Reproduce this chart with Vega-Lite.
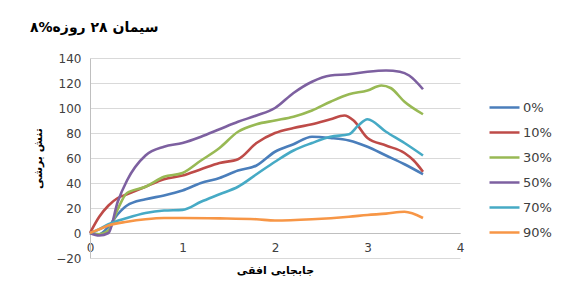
{
  "$schema": "https://vega.github.io/schema/vega-lite/v6.json",
  "width": 370,
  "height": 200,
  "autosize": {"type": "none"},
  "padding": {"left": 90, "top": 58, "right": 102, "bottom": 33},
  "background": "white",
  "config": {
    "view": {"stroke": null},
    "font": "DejaVu Sans"
  },
  "title": {
    "text": "\u200e۸%سیمان ۲۸ روزه",
    "anchor": "start",
    "frame": "group",
    "dx": -60,
    "offset": 17,
    "fontSize": 14,
    "fontWeight": "bold",
    "font": "DejaVu Sans",
    "color": "#000000"
  },
  "data": {
    "values": [
      {"s": "0%", "x": 0, "y": 0}, {"s": "0%", "x": 0.1, "y": -1}, {"s": "0%", "x": 0.2, "y": 5}, {"s": "0%", "x": 0.3, "y": 15}, {"s": "0%", "x": 0.4, "y": 22}, {"s": "0%", "x": 0.6, "y": 27}, {"s": "0%", "x": 0.8, "y": 30}, {"s": "0%", "x": 1.0, "y": 34}, {"s": "0%", "x": 1.2, "y": 40}, {"s": "0%", "x": 1.4, "y": 44}, {"s": "0%", "x": 1.6, "y": 50}, {"s": "0%", "x": 1.8, "y": 54}, {"s": "0%", "x": 2.0, "y": 65}, {"s": "0%", "x": 2.2, "y": 71}, {"s": "0%", "x": 2.4, "y": 77}, {"s": "0%", "x": 2.6, "y": 76}, {"s": "0%", "x": 2.8, "y": 74}, {"s": "0%", "x": 3.0, "y": 69}, {"s": "0%", "x": 3.2, "y": 62}, {"s": "0%", "x": 3.4, "y": 55}, {"s": "0%", "x": 3.6, "y": 47},
      {"s": "10%", "x": 0, "y": 0}, {"s": "10%", "x": 0.1, "y": 13}, {"s": "10%", "x": 0.2, "y": 22}, {"s": "10%", "x": 0.3, "y": 28}, {"s": "10%", "x": 0.4, "y": 31}, {"s": "10%", "x": 0.6, "y": 37}, {"s": "10%", "x": 0.8, "y": 43}, {"s": "10%", "x": 1.0, "y": 46}, {"s": "10%", "x": 1.2, "y": 51}, {"s": "10%", "x": 1.4, "y": 56}, {"s": "10%", "x": 1.6, "y": 59}, {"s": "10%", "x": 1.8, "y": 72}, {"s": "10%", "x": 2.0, "y": 80}, {"s": "10%", "x": 2.2, "y": 84}, {"s": "10%", "x": 2.4, "y": 87}, {"s": "10%", "x": 2.6, "y": 91}, {"s": "10%", "x": 2.75, "y": 94}, {"s": "10%", "x": 2.85, "y": 90}, {"s": "10%", "x": 3.0, "y": 76}, {"s": "10%", "x": 3.2, "y": 70}, {"s": "10%", "x": 3.4, "y": 64}, {"s": "10%", "x": 3.5, "y": 58}, {"s": "10%", "x": 3.6, "y": 49},
      {"s": "30%", "x": 0, "y": 0}, {"s": "30%", "x": 0.1, "y": -1}, {"s": "30%", "x": 0.2, "y": 2}, {"s": "30%", "x": 0.3, "y": 19}, {"s": "30%", "x": 0.4, "y": 32}, {"s": "30%", "x": 0.6, "y": 37}, {"s": "30%", "x": 0.8, "y": 45}, {"s": "30%", "x": 1.0, "y": 48}, {"s": "30%", "x": 1.2, "y": 58}, {"s": "30%", "x": 1.4, "y": 68}, {"s": "30%", "x": 1.6, "y": 81}, {"s": "30%", "x": 1.8, "y": 87}, {"s": "30%", "x": 2.0, "y": 90}, {"s": "30%", "x": 2.2, "y": 93}, {"s": "30%", "x": 2.4, "y": 98}, {"s": "30%", "x": 2.6, "y": 105}, {"s": "30%", "x": 2.8, "y": 111}, {"s": "30%", "x": 3.0, "y": 114}, {"s": "30%", "x": 3.15, "y": 118}, {"s": "30%", "x": 3.25, "y": 116}, {"s": "30%", "x": 3.4, "y": 105}, {"s": "30%", "x": 3.6, "y": 95},
      {"s": "50%", "x": 0, "y": 0}, {"s": "50%", "x": 0.1, "y": -2}, {"s": "50%", "x": 0.2, "y": 0}, {"s": "50%", "x": 0.3, "y": 25}, {"s": "50%", "x": 0.4, "y": 42}, {"s": "50%", "x": 0.6, "y": 62}, {"s": "50%", "x": 0.8, "y": 69}, {"s": "50%", "x": 1.0, "y": 72}, {"s": "50%", "x": 1.2, "y": 77}, {"s": "50%", "x": 1.4, "y": 83}, {"s": "50%", "x": 1.6, "y": 89}, {"s": "50%", "x": 1.8, "y": 94}, {"s": "50%", "x": 2.0, "y": 100}, {"s": "50%", "x": 2.2, "y": 112}, {"s": "50%", "x": 2.4, "y": 121}, {"s": "50%", "x": 2.6, "y": 126}, {"s": "50%", "x": 2.8, "y": 127}, {"s": "50%", "x": 3.0, "y": 129}, {"s": "50%", "x": 3.2, "y": 130}, {"s": "50%", "x": 3.35, "y": 129}, {"s": "50%", "x": 3.45, "y": 126}, {"s": "50%", "x": 3.6, "y": 115},
      {"s": "70%", "x": 0, "y": 0}, {"s": "70%", "x": 0.1, "y": 3}, {"s": "70%", "x": 0.2, "y": 7}, {"s": "70%", "x": 0.4, "y": 12}, {"s": "70%", "x": 0.6, "y": 16}, {"s": "70%", "x": 0.8, "y": 18}, {"s": "70%", "x": 1.0, "y": 18.5}, {"s": "70%", "x": 1.2, "y": 25}, {"s": "70%", "x": 1.4, "y": 31}, {"s": "70%", "x": 1.6, "y": 37}, {"s": "70%", "x": 1.8, "y": 47}, {"s": "70%", "x": 2.0, "y": 57}, {"s": "70%", "x": 2.2, "y": 66}, {"s": "70%", "x": 2.4, "y": 72}, {"s": "70%", "x": 2.6, "y": 77}, {"s": "70%", "x": 2.8, "y": 79}, {"s": "70%", "x": 2.9, "y": 86}, {"s": "70%", "x": 3.0, "y": 91}, {"s": "70%", "x": 3.2, "y": 81}, {"s": "70%", "x": 3.4, "y": 72}, {"s": "70%", "x": 3.6, "y": 62},
      {"s": "90%", "x": 0, "y": 0}, {"s": "90%", "x": 0.1, "y": 3}, {"s": "90%", "x": 0.2, "y": 6}, {"s": "90%", "x": 0.4, "y": 9}, {"s": "90%", "x": 0.6, "y": 11}, {"s": "90%", "x": 0.8, "y": 12}, {"s": "90%", "x": 1.0, "y": 12}, {"s": "90%", "x": 1.4, "y": 11.7}, {"s": "90%", "x": 1.8, "y": 11}, {"s": "90%", "x": 2.0, "y": 10}, {"s": "90%", "x": 2.4, "y": 11}, {"s": "90%", "x": 2.8, "y": 13}, {"s": "90%", "x": 3.0, "y": 14.4}, {"s": "90%", "x": 3.2, "y": 15.5}, {"s": "90%", "x": 3.4, "y": 17}, {"s": "90%", "x": 3.6, "y": 12}
    ]
  },
  "mark": {"type": "line", "interpolate": "monotone", "strokeWidth": 2.6},
  "encoding": {
    "x": {
      "field": "x",
      "type": "quantitative",
      "scale": {"domain": [0, 4], "nice": false},
      "axis": {
        "values": [0, 1, 2, 3, 4],
        "format": "d",
        "offset": -25,
        "grid": false,
        "ticks": false,
        "labelFlush": false,
        "domainColor": "#bfbfbf",
        "labelPadding": 9,
        "labelFontSize": 12,
        "labelColor": "#404040",
        "labelFont": "DejaVu Sans",
        "title": "جابجایی افقی",
        "titleFont": "DejaVu Sans",
        "titleFontSize": 11,
        "titleFontWeight": "bold",
        "titleColor": "#000000",
        "titlePadding": 11
      }
    },
    "y": {
      "field": "y",
      "type": "quantitative",
      "scale": {"domain": [-20, 140], "nice": false},
      "axis": {
        "values": [-20, 0, 20, 40, 60, 80, 100, 120, 140],
        "grid": true,
        "gridColor": "#d9d9d9",
        "ticks": false,
        "domainColor": "#bfbfbf",
        "labelPadding": 9,
        "labelFontSize": 12,
        "labelColor": "#404040",
        "labelFont": "DejaVu Sans",
        "title": "تنش برشی",
        "titleFont": "DejaVu Sans",
        "titleFontSize": 11,
        "titleFontWeight": "bold",
        "titleColor": "#000000",
        "titlePadding": 12
      }
    },
    "color": {
      "field": "s",
      "type": "nominal",
      "scale": {
        "domain": ["0%", "10%", "30%", "50%", "70%", "90%"],
        "range": ["#4a7ebb", "#be4b48", "#98b954", "#7d60a0", "#46aac5", "#f79646"]
      },
      "legend": {
        "title": null,
        "orient": "none",
        "legendX": 408,
        "legendY": 43,
        "padding": 0,
        "symbolType": "M-3,0H3",
        "symbolSize": 100,
        "symbolStrokeWidth": 2.5,
        "labelOffset": 12,
        "rowPadding": 11,
        "labelFontSize": 13,
        "labelFont": "DejaVu Sans",
        "labelColor": "#404040"
      }
    }
  }
}
